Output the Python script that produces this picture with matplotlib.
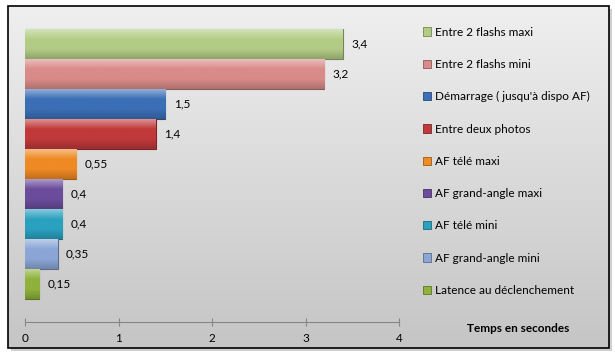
import numpy as np
import matplotlib
matplotlib.use("Agg")
import matplotlib.pyplot as plt
import matplotlib.patches as mpatches
from matplotlib.colors import LinearSegmentedColormap, to_rgb

# data, top bar first
labels = ["Entre 2 flashs maxi", "Entre 2 flashs mini", "Démarrage ( jusqu'à dispo AF)",
          "Entre deux photos", "AF télé maxi", "AF grand-angle maxi", "AF télé mini",
          "AF grand-angle mini", "Latence au déclenchement"]
values = [3.4, 3.2, 1.5, 1.4, 0.55, 0.4, 0.4, 0.35, 0.15]
value_text = ["3,4", "3,2", "1,5", "1,4", "0,55", "0,4", "0,4", "0,35", "0,15"]
colors = ["#b3cc85", "#d98b89", "#3b6fb6", "#c0393b", "#ef8a24",
          "#6b4c9c", "#2aa1bf", "#8ba6d6", "#8fb23c"]
xticks_vals = [0, 1, 2, 3, 4]

plt.rcParams['font.family'] = ['Lato', 'DejaVu Sans']

W, H = 615, 357
fig = plt.figure(figsize=(W / 100, H / 100), dpi=100)

# background with frame and shadow
bg = fig.add_axes([0, 0, 1, 1])
bg.set_xlim(0, W)
bg.set_ylim(H, 0)
bg.axis("off")
bg.add_patch(mpatches.Rectangle((11, 9), 601, 342, fc="#a0a0a0", ec="none", alpha=0.5))
grad = np.linspace(0, 1, 256).reshape(-1, 1)
cm_bg = LinearSegmentedColormap.from_list("bg", ["#efefef", "#c5c5c5"])
bg.imshow(grad, cmap=cm_bg, extent=[8, 609, 348, 6], aspect="auto", zorder=1)
bg.add_patch(mpatches.Rectangle((8, 6), 601, 342, fc="none", ec="black", lw=1.2, zorder=2))

# main axes
ax = fig.add_axes([25 / W, (H - 322) / H, 374 / W, 302 / H])
ax.patch.set_alpha(0)
n = len(values)
ypos = np.arange(n)[::-1]

def shade(c, f):
    r = np.array(to_rgb(c))
    if f > 0:
        return tuple(r + (1 - r) * f)
    return tuple(r * (1 + f))

for y, v, c in zip(ypos, values, colors):
    bar = ax.barh(y, v, height=1.0, color=c, edgecolor=shade(c, -0.35), lw=0.8, zorder=2)[0]
    cm = LinearSegmentedColormap.from_list("b", [shade(c, 0.45), c, c, shade(c, -0.2)])
    im = ax.imshow(grad, cmap=cm, extent=[0, v, y - 0.5, y + 0.5], aspect="auto",
                   origin="upper", zorder=2.5)
    im.set_clip_path(bar)

for y, v, t in zip(ypos, values, value_text):
    ax.annotate(t, (v, y), xytext=(6, 0), textcoords="offset points",
                ha="left", va="center", fontsize=8.5, color="black")

ax.set_xlim(0, 4)
ax.set_ylim(-1.27, 8.8)
ax.set_xticks(xticks_vals)
ax.set_xticklabels([str(t) for t in xticks_vals], fontsize=8.5)
ax.set_yticks([])
for s in ["top", "right", "left"]:
    ax.spines[s].set_visible(False)
ax.spines["bottom"].set_color("#868686")
ax.tick_params(axis="x", direction="inout", length=6, color="#868686", pad=5)

# legend
handles = [mpatches.Patch(fc=c, ec=shade(c, -0.35), lw=0.6) for c in colors]
fig.legend(handles, labels, loc="upper left", bbox_to_anchor=(418 / W, 1 - 22 / H),
           frameon=False, fontsize=8.5, handlelength=0.7, handleheight=0.7,
           handletextpad=0.3, labelspacing=1.8, borderaxespad=0)

fig.text(518 / W, 1 - 329 / H, "Temps en secondes", ha="center", va="center",
         fontsize=8.5, fontweight="bold")

fig.savefig("out.png", dpi=100)
